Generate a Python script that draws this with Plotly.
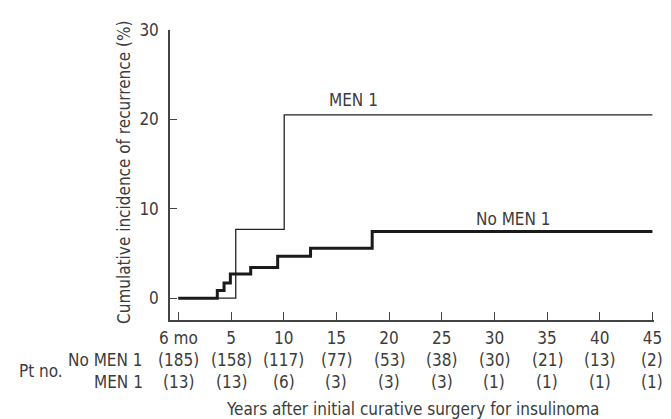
import plotly.graph_objects as go

# ---- data ----
no_men1_years = [0, 3.7, 4.34, 4.94, 6.87, 9.43, 12.55, 18.4, 45]
no_men1_pct = [0, 0.85, 1.7, 2.7, 3.42, 4.7, 5.6, 7.45, 7.45]
men1_years = [0, 5.45, 10.05, 45]
men1_pct = [0, 7.7, 20.5, 20.5]

tick_years = [0, 5, 10, 15, 20, 25, 30, 35, 40, 45]
tick_labels = ["6 mo", "5", "10", "15", "20", "25", "30", "35", "40", "45"]
at_risk_no_men1 = ["(185)", "(158)", "(117)", "(77)", "(53)", "(38)", "(30)", "(21)", "(13)", "(2)"]
at_risk_men1 = ["(13)", "(13)", "(6)", "(3)", "(3)", "(3)", "(1)", "(1)", "(1)", "(1)"]

FONT = "Liberation Sans Narrow, DejaVu Sans Condensed, Open Sans"
TXT = "#3c3c3c"
FS = 17


def f(size=FS):
    return dict(family=FONT, size=size, color=TXT)


fig = go.Figure()
fig.add_trace(go.Scatter(x=men1_years, y=men1_pct, mode="lines",
                         line=dict(shape="hv", color="#222222", width=1.3),
                         showlegend=False, hoverinfo="skip"))
fig.add_trace(go.Scatter(x=no_men1_years, y=no_men1_pct, mode="lines",
                         line=dict(shape="hv", color="#1a1a1a", width=3),
                         showlegend=False, hoverinfo="skip"))

ann = []
ann.append(dict(x=16.6, y=22.2, xref="x", yref="y", text="MEN 1", showarrow=False, font=f()))
ann.append(dict(x=31.8, y=8.9, xref="x", yref="y", text="No MEN 1", showarrow=False, font=f()))

# at-risk rows
for xv, a, b in zip(tick_years, at_risk_no_men1, at_risk_men1):
    ann.append(dict(x=xv, y=0, xref="x", yref="paper", yanchor="middle", yshift=-40,
                    text=a, showarrow=False, font=f()))
    ann.append(dict(x=xv, y=0, xref="x", yref="paper", yanchor="middle", yshift=-62,
                    text=b, showarrow=False, font=f()))
ann.append(dict(x=0, y=0, xref="paper", yref="paper", xanchor="right", yanchor="middle",
                xshift=-25, yshift=-40, text="No MEN 1", showarrow=False, font=f()))
ann.append(dict(x=0, y=0, xref="paper", yref="paper", xanchor="right", yanchor="middle",
                xshift=-25, yshift=-62, text="MEN 1", showarrow=False, font=f()))
ann.append(dict(x=0, y=0, xref="paper", yref="paper", xanchor="right", yanchor="middle",
                xshift=-105, yshift=-51, text="Pt no.", showarrow=False, font=f()))
ann.append(dict(x=0.5, y=0, xref="paper", yref="paper", yanchor="middle",
                yshift=-89, xshift=0, text="Years after initial curative surgery for insulinoma",
                showarrow=False, font=f()))
ann.append(dict(x=0, y=0.5, xref="paper", yref="paper", xanchor="center", yanchor="middle",
                xshift=-46, yshift=2, textangle=-90, text="Cumulative incidence of recurrence (%)",
                showarrow=False, font=f()))

fig.update_layout(
    width=671, height=419,
    margin=dict(l=162, r=25, t=20, b=107),
    paper_bgcolor="white", plot_bgcolor="white",
    font=f(),
    annotations=ann,
    xaxis=dict(range=[-0.79, 45.15], tickvals=tick_years, ticktext=tick_labels,
               ticks="inside", ticklen=8, tickwidth=1.3, tickcolor="#444444",
               showline=True, linecolor="#444444", linewidth=1.5,
               showgrid=False, zeroline=False, ticklabelstandoff=2,
               tickfont=f()),
    yaxis=dict(range=[-2.44, 30], tickvals=[0, 10, 20, 30],
               ticks="inside", ticklen=7, tickwidth=1.3, tickcolor="#444444",
               showline=True, linecolor="#444444", linewidth=1.5,
               showgrid=False, zeroline=False, ticklabelstandoff=6,
               tickfont=f()),
)

fig.write_html("out.html")
